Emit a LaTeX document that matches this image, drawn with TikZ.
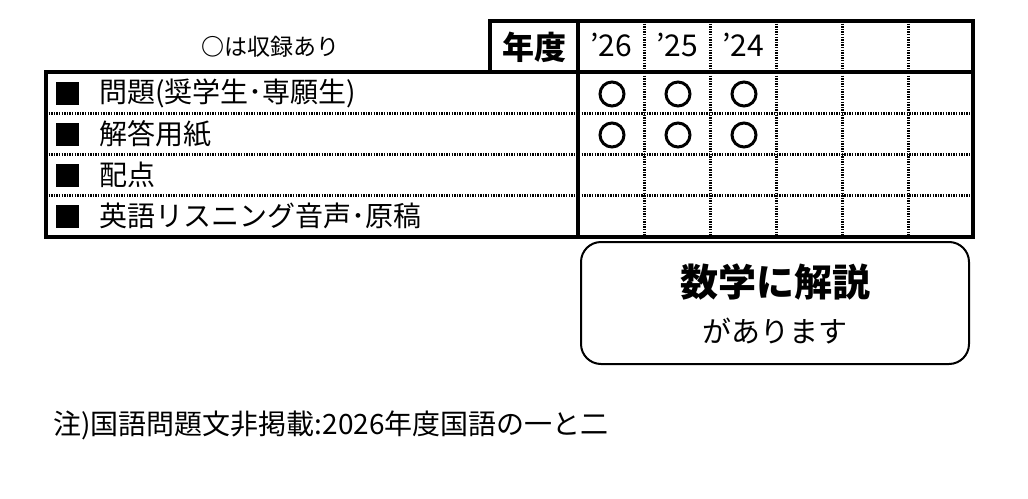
\documentclass[tikz,border=0pt]{standalone}
\usepackage{fontspec}
\setmainfont{Noto Sans CJK JP}
\begin{document}
\begin{tikzpicture}[x=1pt,y=-1pt,
 sline/.style={line width=3.2pt},
 dline/.style={line width=3pt,dash pattern=on 1.3pt off 1.3pt},
 rec/.style={circle,draw,line width=3pt,minimum size=24pt,inner sep=0pt},
 sq/.style={fill=black,minimum size=23pt,inner sep=0pt},
 lbl/.style={anchor=west,font=\fontsize{28}{28}\selectfont},
 yr/.style={font=\fontsize{30}{30}\selectfont}]
\useasboundingbox (0,0) rectangle (1028,498);
\foreach \y in {113,154,195} \draw[dline] (46,\y) -- (973,\y);
\foreach \x in {644,710,776,842,908} \draw[dline] (\x,21) -- (\x,237);
\draw[sline] (490,21) rectangle (973,72);
\draw[sline] (46,72) rectangle (973,237);
\draw[sline] (578,21) -- (578,237);
\node[font=\fontsize{32}{32}\selectfont\bfseries] (nendo) at (534,47) {年度};
\node[yr] (y26) at (611,45) {’26};
\node[yr] (y25) at (677,45) {’25};
\node[yr] (y24) at (743,45) {’24};
\node[font=\fontsize{23}{23}\selectfont] (legend) at (270,47) {\textbf{○}は収録あり};
\foreach \n/\y/\t in {a/93/問題(奨学生･専願生),b/134/解答用紙,c/175/配点,d/216/英語リスニング音声･原稿}{
 \node[sq] (s\n) at (67,\y) {};
 \node[lbl] (t\n) at (96,\y) {\t};}
\foreach \x in {612,678,744} \foreach \y in {94,135} \node[rec] (c\x\y) at (\x,\y) {};
\draw[line width=2pt,rounded corners=20pt] (581,242) rectangle (969,364);
\node[font=\fontsize{38}{38}\selectfont\bfseries] (kai) at (775,282) {数学に解説};
\node[font=\fontsize{29}{29}\selectfont] (ari) at (775,331) {があります};
\node[anchor=west,font=\fontsize{28}{28}\selectfont] (note) at (50,425) {注)国語問題文非掲載:2026年度国語の一と二};
\end{tikzpicture}
\end{document}
